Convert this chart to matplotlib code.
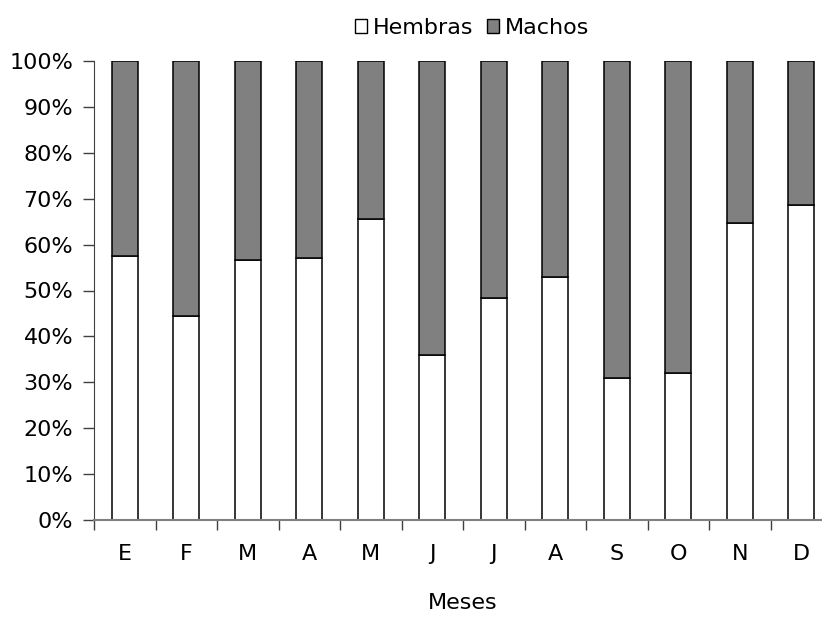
import matplotlib.pyplot as plt
from matplotlib.patches import Patch
from matplotlib.ticker import FixedLocator, PercentFormatter
import numpy as np

# monthly sex ratio (percent)
meses = ['E', 'F', 'M', 'A', 'M', 'J', 'J', 'A', 'S', 'O', 'N', 'D']
hembras = [57.6, 44.4, 56.7, 57.1, 65.6, 35.9, 48.3, 52.9, 30.9, 32.1, 64.8, 68.6]
machos = [100 - h for h in hembras]

plt.rcParams['font.family'] = 'DejaVu Sans'

fig = plt.figure(figsize=(8.22, 6.19), dpi=100)
ax = fig.add_axes([94 / 822, 99 / 619, 738 / 822, 459 / 619])

x = np.arange(len(meses))
ax.bar(x, hembras, width=0.42, color='white', edgecolor='black', linewidth=1.1)
ax.bar(x, machos, width=0.42, bottom=hembras, color='#808080', edgecolor='black', linewidth=1.1)

ax.set_xlim(-0.5, len(meses) - 0.5)
ax.set_ylim(0, 100)
ax.set_yticks(np.arange(0, 101, 10))
ax.yaxis.set_major_formatter(PercentFormatter(decimals=0))

# labels centred, tick marks between months
ax.set_xticks(x)
ax.set_xticklabels(meses)
ax.xaxis.set_minor_locator(FixedLocator(np.arange(-0.5, len(meses), 1.0)))
ax.tick_params(axis='x', which='major', length=0, pad=17, labelsize=16)
ax.tick_params(axis='x', which='minor', length=7, width=1, color='#404040')
ax.tick_params(axis='y', length=8, width=1, pad=7, labelsize=16, color='#404040')

for s in ['top', 'right']:
    ax.spines[s].set_visible(False)
ax.spines['left'].set_color('#404040')
ax.spines['bottom'].set_color('#808080')
ax.spines['bottom'].set_linewidth(1.5)
ax.spines['bottom'].set_clip_on(False)

ax.set_xlabel('Meses', fontsize=16, labelpad=21)

handles = [Patch(facecolor='white', edgecolor='black', label='Hembras'),
           Patch(facecolor='#808080', edgecolor='black', label='Machos')]
fig.legend(handles=handles, loc='center', bbox_to_anchor=(472 / 822, 1 - 28 / 619),
           ncol=2, frameon=False, fontsize=16, handlelength=0.55, handleheight=0.55,
           handletextpad=0.25, columnspacing=0.6)

fig.savefig('out.png', dpi=100)
